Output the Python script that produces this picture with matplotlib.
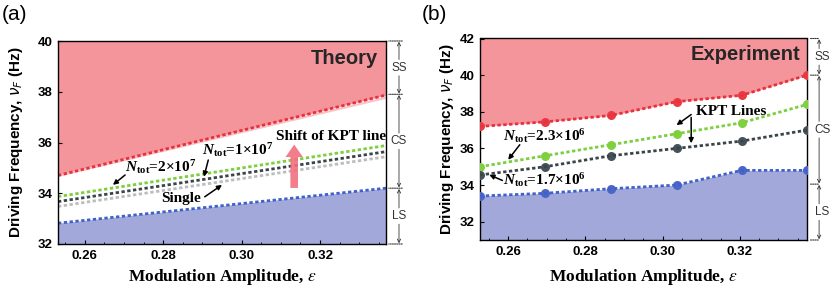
import numpy as np
import matplotlib
matplotlib.use("Agg")
import matplotlib.pyplot as plt
from matplotlib.ticker import MultipleLocator

plt.rcParams['font.family'] = ['Liberation Sans', 'DejaVu Sans']
plt.rcParams['mathtext.fontset'] = 'custom'
plt.rcParams['mathtext.rm'] = 'Liberation Serif:bold'
plt.rcParams['mathtext.it'] = 'Liberation Serif:italic:bold'
plt.rcParams['mathtext.bf'] = 'Liberation Serif:bold'

# ---- data: theory (panel a) ----
eps_theory = [0.2532, 0.3368]
ss_theory = [34.70, 37.87]
kpt_2e7 = [33.87, 35.88]
kpt_1e7 = [33.67, 35.64]
kpt_single = [33.48, 35.44]
ls_theory = [32.82, 34.20]
faint_theory = [34.68, 37.76]
bounds_a = [40.0, 37.9, 34.2, 32.0]

# ---- data: experiment (panel b) ----
eps_exp = [0.2527, 0.2696, 0.2866, 0.3036, 0.3205, 0.3374]
ss_exp = [37.2, 37.45, 37.8, 38.55, 38.9, 40.0]
kpt_23e6 = [35.0, 35.6, 36.2, 36.8, 37.4, 38.4]
kpt_17e6 = [34.55, 35.0, 35.6, 36.0, 36.4, 37.0]
ls_exp = [33.4, 33.55, 33.8, 34.0, 34.8, 34.8]
bounds_b = [42.0, 40.0, 34.05, 31.0]

region_labels = ['SS', 'CS', 'LS']

RED_FILL = '#f4949b'
BLUE_FILL = '#a2a8da'
RED = '#e8313f'
GREEN = '#7ccf3e'
DARK = '#3b4549'
GRAY = '#bdbdbd'
BLUE = '#4062c8'
DOT = (0, (1.2, 0.9))

serif = dict(family='Liberation Serif', fontweight='bold', fontsize=11)


def style_axes(ax, xlim, ylim, yticks):
    ax.set_xlim(*xlim)
    ax.set_ylim(*ylim)
    ax.set_xticks([0.26, 0.28, 0.30, 0.32])
    ax.set_xticklabels(['0.26', '0.28', '0.30', '0.32'])
    ax.set_yticks(yticks)
    ax.xaxis.set_minor_locator(MultipleLocator(0.005))
    ax.tick_params(direction='in', length=3, width=0.8, labelsize=9.5, pad=4)
    ax.tick_params(which='minor', direction='in', length=1.8, width=0.6)
    for lab in ax.get_xticklabels() + ax.get_yticklabels():
        lab.set_fontweight('bold')
    for s in ax.spines.values():
        s.set_linewidth(1.0)
    ax.set_xlabel(r'Modulation Amplitude, $\epsilon$', family='Liberation Serif',
                  fontweight='bold', fontsize=12.5)
    ax.set_ylabel(r'Driving Frequency, $\nu_F$ (Hz)', fontweight='bold', fontsize=11)
    ax.yaxis.label.set_math_fontfamily('dejavusans')
    ax.xaxis.label.set_math_fontfamily('stix')


def side_regions(ax, bounds, xline, xarr, xlab, gap):
    tr = ('axes fraction', 'data')
    for b in bounds:
        ax.annotate('', xy=(1.0, b), xytext=(xline, b), xycoords=tr, textcoords=tr,
                    arrowprops=dict(arrowstyle='-', ls=(0, (1, 1)), lw=0.8, color='#333333'))
    for i, lab in enumerate(region_labels):
        top, bot = bounds[i], bounds[i + 1]
        mid = (top + bot) / 2
        ax.annotate(lab, xy=(xlab, mid), xycoords=tr, ha='center', va='center',
                    fontsize=8.5, color='#333333', annotation_clip=False)
        for end, start in ((top, mid + gap), (bot, mid - gap)):
            ax.annotate('', xy=(xarr, end), xytext=(xarr, start), xycoords=tr, textcoords=tr,
                        arrowprops=dict(arrowstyle='->', lw=0.6, color='#333333',
                                        mutation_scale=6, shrinkA=0, shrinkB=0.5))


def arrow(ax, tip, tail):
    ax.annotate('', xy=tip, xytext=tail,
                arrowprops=dict(arrowstyle='-|>', lw=1.1, color='black',
                                mutation_scale=7, shrinkA=0, shrinkB=0))


fig = plt.figure(figsize=(8.32, 2.89), dpi=100)

# ---------------- panel (a) ----------------
ax = fig.add_axes([58 / 832, 45 / 289, 328 / 832, 203 / 289])
ylo, yhi = 32, 40
ax.fill_between(eps_theory, ss_theory, yhi, color=RED_FILL, lw=0)
ax.fill_between(eps_theory, ylo, ls_theory, color=BLUE_FILL, lw=0)
ax.plot(eps_theory, faint_theory, color='#f8c4c8', lw=1.5)
ax.plot(eps_theory, ss_theory, color=RED, lw=2, ls=DOT)
ax.plot(eps_theory, kpt_single, color=GRAY, lw=2, ls=DOT)
ax.plot(eps_theory, kpt_1e7, color=DARK, lw=2, ls=DOT)
ax.plot(eps_theory, kpt_2e7, color=GREEN, lw=2, ls=DOT)
ax.plot(eps_theory, ls_theory, color=BLUE, lw=2, ls=DOT)
style_axes(ax, (0.2532, 0.3368), (ylo, yhi), [32, 34, 36, 38, 40])
ax.yaxis.set_label_coords(-0.10, 0.5)
ax.xaxis.set_label_coords(0.5, -0.115)

ax.text(0.3348, 39.32, 'Theory', ha='right', va='center', fontsize=14.5,
        fontweight='bold', color='#262626')
ax.annotate('', xy=(0.3134, 35.92), xytext=(0.3134, 34.21),
            arrowprops=dict(arrowstyle='simple,head_width=1.25,head_length=0.9,tail_width=0.55',
                            color='#f2707f', alpha=0.9, mutation_scale=10, lw=0,
                            shrinkA=0, shrinkB=0))
ax.text(0.3227, 36.23, 'Shift of KPT line', ha='center', va='center', **serif)
ax.text(0.2795, 35.03, r'$N_{\mathrm{tot}}$=2×10$^{7}$', ha='center', va='center', **serif)
ax.text(0.2990, 35.70, r'$N_{\mathrm{tot}}$=1×10$^{7}$', ha='center', va='center', **serif)
ax.text(0.2846, 33.80, 'Single', ha='center', va='center', **serif)
arrow(ax, (0.2672, 34.33), (0.2703, 34.72))
arrow(ax, (0.2904, 34.65), (0.2915, 35.31))
arrow(ax, (0.2950, 34.33), (0.2906, 33.86))
side_regions(ax, bounds_a, 1.058, 1.0396, 1.0396, 0.32)
fig.text(0.002, 1 - 14 / 289, '(a)', fontsize=15, va='center', ha='left')

# ---------------- panel (b) ----------------
bx = fig.add_axes([480 / 832, 49 / 289, 327 / 832, 201.5 / 289])
ylo, yhi = 31, 42
bx.fill_between(eps_exp, ss_exp, yhi, color=RED_FILL, lw=0)
bx.fill_between(eps_exp, ylo, ls_exp, color=BLUE_FILL, lw=0)
for ys, lc, mc in ((ss_exp, RED, '#e93a44'), (kpt_23e6, GREEN, '#80d040'),
                   (kpt_17e6, DARK, '#46525a'), (ls_exp, BLUE, '#4a66c6')):
    bx.plot(eps_exp, ys, ls='none', marker='o', ms=6.5, color=mc, mec='none', zorder=3)
    bx.plot(eps_exp, ys, color=lc, lw=2, ls=DOT, zorder=4)
style_axes(bx, (0.2527, 0.3374), (ylo, yhi), [32, 34, 36, 38, 40, 42])
bx.yaxis.set_label_coords(-0.074, 0.5)
bx.xaxis.set_label_coords(0.5, -0.135)

bx.text(0.3356, 41.1, 'Experiment', ha='right', va='center', fontsize=14.5,
        fontweight='bold', color='#262626')
bx.text(0.2695, 36.67, r'$N_{\mathrm{tot}}$=2.3×10$^{6}$', ha='center', va='center', **serif)
bx.text(0.2695, 34.25, r'$N_{\mathrm{tot}}$=1.7×10$^{6}$', ha='center', va='center', **serif)
bx.text(0.3178, 38.0, 'KPT Lines', ha='center', va='center', **serif)
arrow(bx, (0.2600, 35.38), (0.2630, 36.2))
arrow(bx, (0.2551, 34.56), (0.2585, 34.25))
arrow(bx, (0.3036, 37.27), (0.3074, 37.85))
arrow(bx, (0.3074, 36.28), (0.3074, 37.69))
side_regions(bx, bounds_b, 1.043, 1.037, 1.047, 0.45)
fig.text(422 / 832, 1 - 14 / 289, '(b)', fontsize=15, va='center', ha='left')

fig.savefig('out.png', dpi=100)
